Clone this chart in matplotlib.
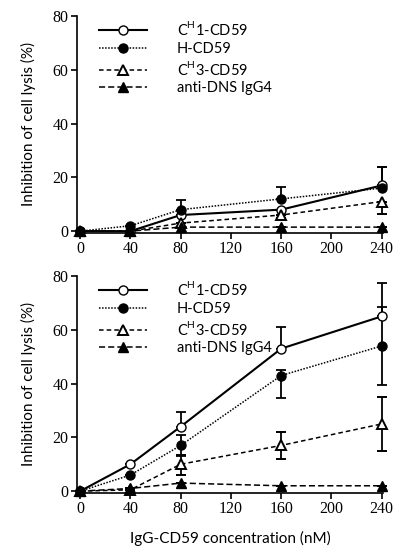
import matplotlib
matplotlib.use("Agg")
import matplotlib.pyplot as plt
from matplotlib.lines import Line2D
import numpy as np

conc = [0, 40, 80, 160, 240]
labels = ["C$^{\\mathregular{H}}$1-CD59", "H-CD59", "C$^{\\mathregular{H}}$3-CD59", "anti-DNS IgG4"]

# top panel
top_ch1 = [0, 0, 6, 8, 17]
top_ch1_lo = [0, 0, 0, 0, 0]
top_ch1_hi = [0, 0, 0, 0, 7]
top_h = [0, 2, 8, 12, 16]
top_h_lo = [0, 0, 0, 0, 0]
top_h_hi = [0, 0, 3.5, 4.5, 8]
top_ch3 = [0, 0, 3, 6, 11]
top_ch3_lo = [0, 0, 0, 1, 4.5]
top_ch3_hi = [0, 0, 0, 0, 0]
top_dns = [0, 0, 1.5, 1.5, 1.5]

# bottom panel
bot_ch1 = [0, 10, 24, 53, 65]
bot_ch1_lo = [0, 0, 0, 0, 0]
bot_ch1_hi = [0, 0, 5.5, 8, 12.5]
bot_h = [0, 6, 17, 43, 54]
bot_h_lo = [0, 0, 4, 8.5, 14.5]
bot_h_hi = [0, 0, 4, 2, 14.5]
bot_ch3 = [0, 0.5, 10, 17, 25]
bot_ch3_lo = [0, 0, 4, 5, 10]
bot_ch3_hi = [0, 0, 3.5, 5, 10]
bot_dns = [0, 1, 3, 2, 2]

W, H = 415, 557
fig = plt.figure(figsize=(W/100, H/100), dpi=100)

sans = "Lato"
plt.rcParams["mathtext.fontset"] = "custom"
plt.rcParams["mathtext.rm"] = sans

styles = [
    dict(ls="-", marker="o", mfc="white", mec="black", lw=1.5, ms=6.5),
    dict(ls=(0, (1, 1)), marker="o", mfc="black", mec="black", lw=1.1, ms=6.5),
    dict(ls=(0, (3, 2)), marker="^", mfc="white", mec="black", lw=1.1, ms=6.5, mew=1.4),
    dict(ls=(0, (4, 2)), marker="^", mfc="black", mec="black", lw=1.1, ms=6.5),
]

def panel(rect, series):
    ax = fig.add_axes(rect)
    for (y, lo, hi), st in zip(series, styles):
        ax.errorbar(conc, y, yerr=[lo, hi], color="black", capsize=3.5, elinewidth=1.3,
                    capthick=1.3, clip_on=False, zorder=3, **st)
    ax.set_xlim(-2.5, 241)
    ax.set_ylim(-0.5, 80)
    ax.set_xticks([0, 40, 80, 120, 160, 200, 240])
    ax.set_yticks([0, 20, 40, 60, 80])
    for s in ["top", "right"]:
        ax.spines[s].set_visible(False)
    ax.spines["left"].set_linewidth(1.2)
    ax.spines["bottom"].set_linewidth(1.2)
    ax.tick_params(direction="out", length=4, width=1.2, pad=2)
    for t in ax.get_xticklabels() + ax.get_yticklabels():
        t.set_fontfamily("Liberation Serif")
        t.set_fontsize(11.5)
    ax.set_ylabel("Inhibition of cell lysis (%)", fontfamily=sans, fontsize=11, labelpad=12)
    handles = [Line2D([], [], color="black", **st) for st in styles]
    ax.legend(handles, labels, loc="upper left", bbox_to_anchor=(0.03, 1.04), frameon=False,
              handlelength=3.3, labelspacing=0.25, handletextpad=2.0,
              prop={"family": sans, "size": 10.5})
    return ax

ax1 = panel([77/W, 324.5/H, 306/W, 216.5/H],
            [(top_ch1, top_ch1_lo, top_ch1_hi), (top_h, top_h_lo, top_h_hi),
             (top_ch3, top_ch3_lo, top_ch3_hi), (top_dns, [0]*5, [0]*5)])
ax2 = panel([77/W, 64.5/H, 306/W, 216.5/H],
            [(bot_ch1, bot_ch1_lo, bot_ch1_hi), (bot_h, bot_h_lo, bot_h_hi),
             (bot_ch3, bot_ch3_lo, bot_ch3_hi), (bot_dns, [0]*5, [0]*5)])
ax2.set_xlabel("IgG-CD59 concentration (nM)", fontfamily=sans, fontsize=11, labelpad=10)

fig.savefig("out.png", dpi=100)
